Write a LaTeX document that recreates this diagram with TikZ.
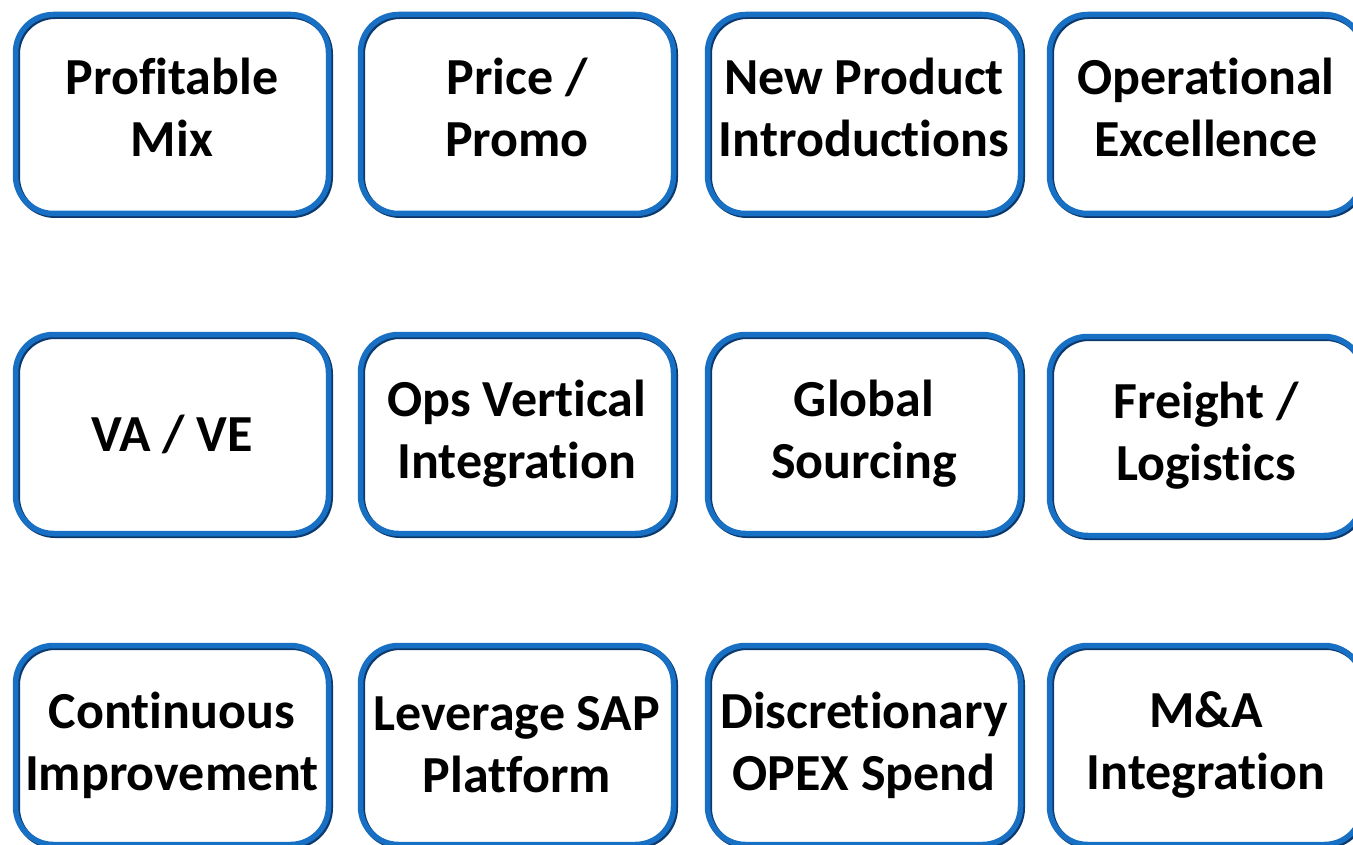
\documentclass[tikz,border=0pt]{standalone}
\usepackage{fontspec}
\setmainfont{Carlito}[RawFeature={-liga;-calt;-dlig;-clig}]
\definecolor{tiledark}{RGB}{12,58,110}
\definecolor{tileblue}{RGB}{24,112,196}
\tikzset{
  tile/.style={draw=tileblue, line width=5.5pt, rounded corners=38pt,
    minimum width=313pt, minimum height=199pt, inner sep=0pt, align=center,
    font=\fontsize{52}{62}\selectfont\bfseries, text=black,
    preaction={draw=tiledark, line width=6pt, transform canvas={shift={(1.5pt,-1.5pt)}}}},
  toprow/.style={text depth=14pt}
}
\begin{document}
\begin{tikzpicture}[x=1pt,y=-1pt]
\useasboundingbox (0,0) rectangle (1353,845);
\clip (0,0) rectangle (1353,845);
\fill[white] (0,0) rectangle (1353,845);
% row 1
\node[tile,toprow] (pm) at (172,114) {Profitable\\Mix};
\node[tile,toprow] (pp) at (517,114) {Price /\\Promo};
\node[tile,toprow] (np) at (864,114) {New Product\\Introductions};
\node[tile,toprow] (oe) at (1206,114) {Operational\\Excellence};
% row 2
\node[tile] (va) at (172,434) {VA / VE};
\node[tile] (ov) at (517,434) {Ops Vertical\\Integration};
\node[tile] (gs) at (864,434) {Global\\Sourcing};
\node[tile] (fl) at (1206,436) {Freight /\\Logistics};
% row 3
\node[tile] (ci) at (172,745) {Continuous\\Improvement};
\node[tile] (ls) at (517,745) {Leverage SAP\\Platform};
\node[tile] (ds) at (864,745) {Discretionary\\OPEX Spend};
\node[tile] (ma) at (1206,745) {M\&A\\Integration};
\end{tikzpicture}
\end{document}
